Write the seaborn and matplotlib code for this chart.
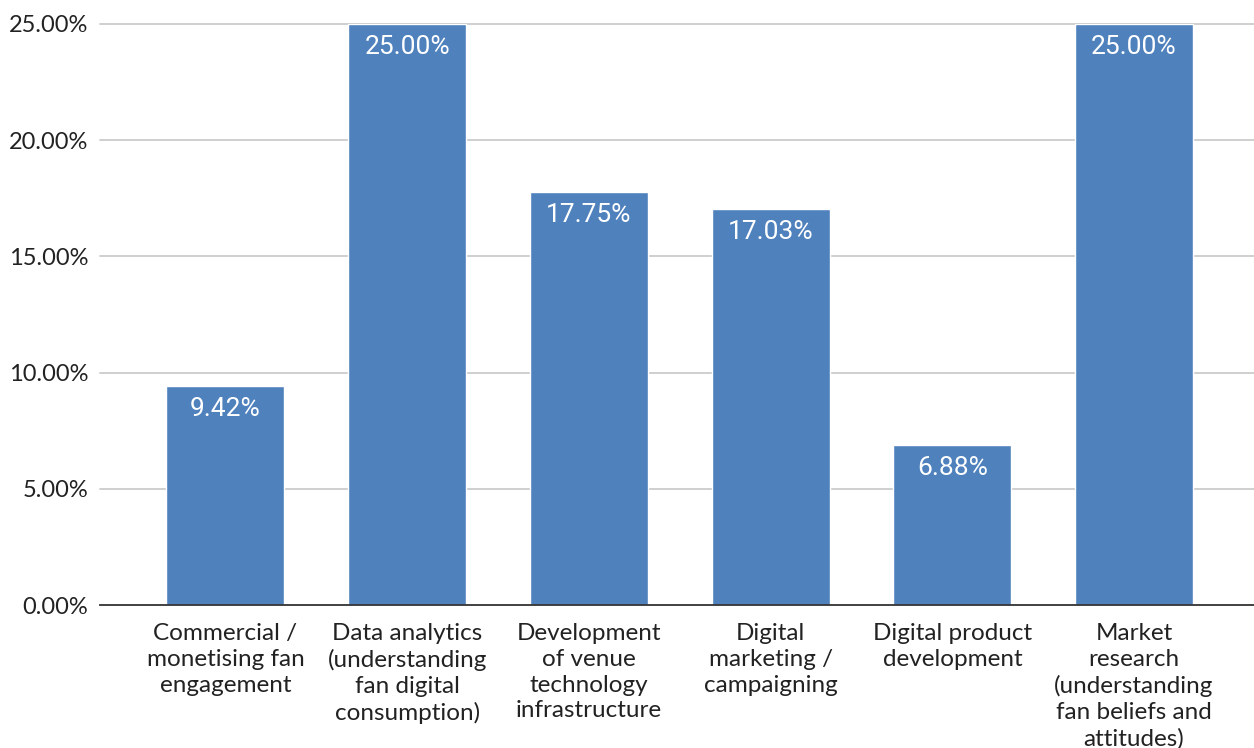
import matplotlib
matplotlib.use("Agg")
import matplotlib.pyplot as plt
import seaborn as sns

# Share of respondents by area of focus
categories = [
    "Commercial /\nmonetising fan\nengagement",
    "Data analytics\n(understanding\nfan digital\nconsumption)",
    "Development\nof venue\ntechnology\ninfrastructure",
    "Digital\nmarketing /\ncampaigning",
    "Digital product\ndevelopment",
    "Market\nresearch\n(understanding\nfan beliefs and\nattitudes)",
]
shares = [9.42, 25.00, 17.75, 17.03, 6.88, 25.00]
y_ticks = [0, 5, 10, 15, 20, 25]

BAR_COLOR = "#4f81bd"
TEXT_COLOR = "#222222"

sns.set_theme(style="white")
plt.rcParams["font.family"] = ["Lato", "DejaVu Sans"]

fig = plt.figure(figsize=(12.54, 7.48), dpi=100)
ax = fig.add_axes([100 / 1254, 143 / 748, 1 - 100 / 1254, (605 - 24) / 748])

sns.barplot(x=list(range(len(shares))), y=shares, color=BAR_COLOR,
            saturation=1, width=0.65, ax=ax, zorder=3)

ax.set_ylim(0, 25)
ax.set_xlim(-0.69, 5.66)
ax.set_yticks(y_ticks)
ax.set_yticklabels([f"{t:.2f}%" for t in y_ticks], fontsize=17, color=TEXT_COLOR)
ax.set_xticks(range(len(categories)))
ax.set_xticklabels(categories, fontsize=17.5, color=TEXT_COLOR, linespacing=1.28,
                   va="top")
ax.tick_params(axis="y", length=0, pad=8.5)
ax.tick_params(axis="x", length=0, pad=13)

for t in y_ticks[1:]:
    ax.axhline(t, color="#cccccc", lw=1.3, zorder=1, clip_on=False)

for side in ["top", "right", "left"]:
    ax.spines[side].set_visible(False)
ax.spines["bottom"].set_color("#333333")
ax.spines["bottom"].set_linewidth(1.3)
ax.spines["bottom"].set_zorder(4)

ax.set_xlabel("")
ax.set_ylabel("")

for i, v in enumerate(shares):
    ax.annotate(f"{v:.2f}%", xy=(i, v), xytext=(0, -16.5), textcoords="offset points",
                ha="center", va="center", color="white", fontsize=19,
                family=["Roboto", "DejaVu Sans"], zorder=5)

fig.savefig("out.png", dpi=100, facecolor="white")
